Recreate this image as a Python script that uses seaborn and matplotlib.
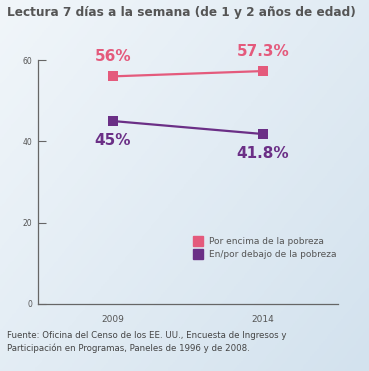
import matplotlib
matplotlib.use("Agg")
import matplotlib.pyplot as plt
import numpy as np
import pandas as pd
import seaborn as sns
from matplotlib.lines import Line2D

years = [2009, 2014]
groups = ["Por encima de la pobreza", "En/por debajo de la pobreza"]
above_values = [56.0, 57.3]
below_values = [45.0, 41.8]
above_labels = ["56%", "57.3%"]
below_labels = ["45%", "41.8%"]
y_ticks = [0, 20, 40, 60]

PINK = "#e45a7c"
PURPLE = "#6b2f86"
GREY = "#555555"

df = pd.DataFrame({
    "year": years * 2,
    "pct": above_values + below_values,
    "group": [groups[0]] * 2 + [groups[1]] * 2,
})

sns.set_theme(style="white")
plt.rcParams["font.family"] = ["DejaVu Sans"]

fig = plt.figure(figsize=(3.69, 3.71), dpi=100)

# soft blue background
bg = fig.add_axes([0, 0, 1, 1], zorder=-1)
gx, gy = np.meshgrid(np.linspace(0, 1, 200), np.linspace(0, 1, 200))
grad = 0.55 * gx + 0.45 * gy
cmap = matplotlib.colors.LinearSegmentedColormap.from_list("bg", ["#f1f6fa", "#d3e2ee"])
bg.imshow(grad, cmap=cmap, aspect="auto", extent=[0, 1, 0, 1], origin="upper")
bg.axis("off")

ax = fig.add_axes([0.103, 0.181, 0.813, 0.657])
ax.patch.set_alpha(0)

sns.lineplot(
    data=df, x="year", y="pct", hue="group",
    palette={groups[0]: PINK, groups[1]: PURPLE},
    marker="s", markersize=7, markeredgewidth=0, linewidth=1.6,
    legend=False, ax=ax,
)

ax.set_xlim(2006.5, 2016.5)
ax.set_ylim(0, 60)
ax.set_yticks(y_ticks)
ax.set_xticks(years)
ax.set_xticklabels([str(y) for y in years], fontsize=6.5, color=GREY)
ax.set_yticklabels([str(t) for t in y_ticks], fontsize=5.5, color=GREY)
ax.tick_params(axis="y", left=True, direction="in", length=6, width=0.8,
               color="#666666", pad=4)
ax.tick_params(axis="x", bottom=False, length=0, pad=8)
ax.set_xlabel("")
ax.set_ylabel("")
for s in ["top", "right"]:
    ax.spines[s].set_visible(False)
for s in ["left", "bottom"]:
    ax.spines[s].set_color("#666666")
    ax.spines[s].set_linewidth(0.9)

for x, v, lab in zip(years, above_values, above_labels):
    ax.annotate(lab, (x, v), xytext=(0, 14), textcoords="offset points",
                ha="center", va="center", color=PINK, fontsize=11, fontweight="bold")
for x, v, lab in zip(years, below_values, below_labels):
    ax.annotate(lab, (x, v), xytext=(0, -14), textcoords="offset points",
                ha="center", va="center", color=PURPLE, fontsize=11, fontweight="bold")

handles = [
    Line2D([], [], marker="s", linestyle="none", markersize=7, color=PINK),
    Line2D([], [], marker="s", linestyle="none", markersize=7, color=PURPLE),
]
ax.legend(handles, groups, loc="lower left", bbox_to_anchor=(0.49, 0.17),
          frameon=False, fontsize=6.5, labelcolor=GREY, handletextpad=0.3,
          labelspacing=0.45, borderaxespad=0)

fig.text(0.02, 0.965, "Lectura 7 días a la semana (de 1 y 2 años de edad)",
         fontsize=8.7, fontweight="bold", color=GREY, va="center")
fig.text(0.02, 0.078,
         "Fuente: Oficina del Censo de los EE. UU., Encuesta de Ingresos y\n"
         "Participación en Programas, Paneles de 1996 y de 2008.",
         fontsize=6.2, color="#444444", va="center", linespacing=1.35)

fig.savefig("out.png", dpi=100)
